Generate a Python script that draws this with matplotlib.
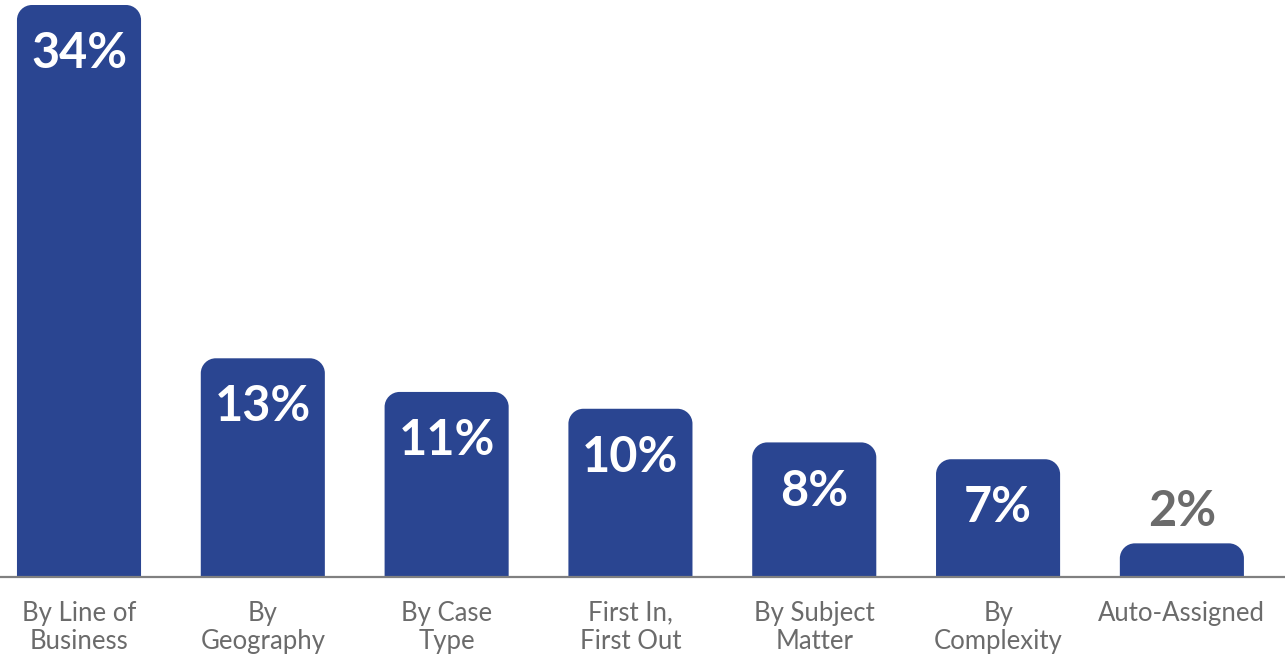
import numpy as np
import matplotlib.pyplot as plt
from matplotlib.path import Path
from matplotlib.patches import PathPatch

plt.rcParams['font.family'] = ['Lato', 'DejaVu Sans']

categories = ["By Line of\nBusiness", "By\nGeography", "By Case\nType", "First In,\nFirst Out",
              "By Subject\nMatter", "By\nComplexity", "Auto-Assigned"]
values = [34, 13, 11, 10, 8, 7, 2]

bar_color = "#2a4591"
grey = "#6b6b6b"

fig = plt.figure(figsize=(12.85, 6.54), dpi=100)
ax = fig.add_axes([0, 77 / 654, 1, 577 / 654])
ax.set_xlim(-0.4298, 6.561)
ax.set_ylim(0, 34 * 577 / 572)
ax.axis("off")

# pixel scale of data units, used for the rounded corners
px_x = 1285 / (6.561 + 0.4298)
px_y = 577 / (34 * 577 / 572)
r = 15
rx, ry = r / px_x, r / px_y
w = 0.675
k = 0.5523

def rounded_bar(x, h):
    x0, x1 = x - w / 2, x + w / 2
    verts = [(x0, 0), (x0, h - ry),
             (x0, h - ry + k * ry), (x0 + rx - k * rx, h), (x0 + rx, h),
             (x1 - rx, h),
             (x1 - rx + k * rx, h), (x1, h - ry + k * ry), (x1, h - ry),
             (x1, 0), (x0, 0)]
    codes = [Path.MOVETO, Path.LINETO,
             Path.CURVE4, Path.CURVE4, Path.CURVE4,
             Path.LINETO,
             Path.CURVE4, Path.CURVE4, Path.CURVE4,
             Path.LINETO, Path.CLOSEPOLY]
    return PathPatch(Path(verts, codes), facecolor=bar_color, edgecolor="none")

for i, v in enumerate(values):
    ax.add_patch(rounded_bar(i, v))
    if v > 5:
        ax.annotate(f"{v}%", xy=(i, v), xytext=(0, -35), textcoords="offset points",
                    ha="center", va="center", color="white", fontsize=35, fontweight="bold")
    else:
        ax.annotate(f"{v}%", xy=(i, v), xytext=(0, 23), textcoords="offset points",
                    ha="center", va="center", color=grey, fontsize=35, fontweight="bold")
    ax.annotate(categories[i], xy=(i, 0), xytext=(0, -17), textcoords="offset points",
                ha="center", va="top", color=grey, fontsize=18.5, linespacing=1.15,
                annotation_clip=False)

ax.axhline(0, color="#808080", lw=1.6, clip_on=False)

fig.savefig("out.png", dpi=100)
